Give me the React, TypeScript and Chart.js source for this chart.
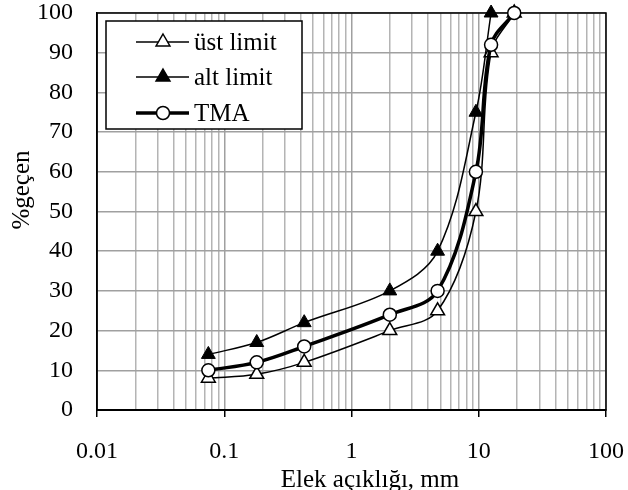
import React, { useEffect, useRef } from "react";
import { Chart, registerables } from "chart.js";

Chart.register(...registerables);

const sieveSizes = [0.075, 0.18, 0.425, 2, 4.75, 9.5, 12.5, 19];
const ustLimit = [8, 9, 12, 20, 25, 50, 90, 100];
const altLimit = [14, 17, 22, 30, 40, 75, 100, null];
const tma = [10, 12, 16, 24, 30, 60, 92, 100];
const decadeLabels = [0.01, 0.1, 1, 10, 100];
const minorSteps = [1, 2, 3, 4, 5, 6, 7, 8, 9];
const seriesNames = ["üst limit", "alt limit", "TMA"];
const xTitle = "Elek açıklığı, mm";
const yTitle = "%geçen";

const FONT = "'Liberation Serif', 'Times New Roman', serif";
const GRID = "#b4b4b4";
const GRID_MAJOR = "#a0a0a0";

const isDecade = (v: number) =>
  decadeLabels.some((d) => Math.abs(d - v) / d < 1e-6);

const overlayPlugin = {
  id: "overlay",
  beforeDatasetsDraw(chart: any) {
    const { ctx, chartArea } = chart;
    ctx.save();
    ctx.strokeStyle = "#000";
    ctx.lineWidth = 1.5;
    ctx.strokeRect(
      chartArea.left,
      chartArea.top,
      chartArea.right - chartArea.left,
      chartArea.bottom - chartArea.top
    );
    ctx.restore();
  },
  afterDraw(chart: any) {
    const { ctx } = chart;
    ctx.save();
    // Legend box
    const bx = 106, by = 21, bw = 196, bh = 108;
    ctx.fillStyle = "#fff";
    ctx.fillRect(bx, by, bw, bh);
    ctx.strokeStyle = "#000";
    ctx.lineWidth = 1.5;
    ctx.strokeRect(bx, by, bw, bh);
    const rows = [42, 77, 113];
    const styles = [
      { lw: 1.5, marker: "tri", fill: "#fff" },
      { lw: 1.5, marker: "tri", fill: "#000" },
      { lw: 3.5, marker: "circle", fill: "#fff" },
    ];
    rows.forEach((ry, i) => {
      const st = styles[i];
      ctx.strokeStyle = "#000";
      ctx.lineWidth = st.lw;
      ctx.beginPath();
      ctx.moveTo(136, ry);
      ctx.lineTo(189, ry);
      ctx.stroke();
      ctx.lineWidth = 1.5;
      ctx.fillStyle = st.fill;
      ctx.beginPath();
      if (st.marker === "tri") {
        const r = 8;
        const cx = 163;
        ctx.moveTo(cx, ry - r);
        ctx.lineTo(cx + r * 0.866, ry + r * 0.5);
        ctx.lineTo(cx - r * 0.866, ry + r * 0.5);
        ctx.closePath();
      } else {
        ctx.arc(163, ry, 6.5, 0, Math.PI * 2);
      }
      ctx.fill();
      ctx.stroke();
      ctx.fillStyle = "#000";
      ctx.font = `25px ${FONT}`;
      ctx.textAlign = "left";
      ctx.textBaseline = "middle";
      ctx.fillText(seriesNames[i], 194, ry + 1);
    });
    // Axis titles
    ctx.fillStyle = "#000";
    ctx.font = `25px ${FONT}`;
    ctx.textAlign = "center";
    ctx.textBaseline = "middle";
    ctx.fillText(xTitle, 370, 480);
    ctx.translate(22, 190);
    ctx.rotate(-Math.PI / 2);
    ctx.fillText(yTitle, 0, 0);
    ctx.restore();
  },
};

export default function App() {
  const ref = useRef<HTMLCanvasElement>(null);

  useEffect(() => {
    document.body.style.margin = "0";
    const canvas = ref.current;
    if (!canvas) return;
    const mk = (ys: (number | null)[]) =>
      sieveSizes.map((x, i) => ({ x, y: ys[i] }));
    const chart = new Chart(canvas, {
      type: "line",
      data: {
        datasets: [
          {
            label: seriesNames[2],
            data: mk(tma),
            borderColor: "#000",
            borderWidth: 3.5,
            pointStyle: "circle",
            pointRadius: 6.5,
            pointBorderWidth: 1.5,
            pointBackgroundColor: "#fff",
            pointBorderColor: "#000",
            tension: 0.35,
            clip: false,
          },
          {
            label: seriesNames[1],
            data: mk(altLimit),
            borderColor: "#000",
            borderWidth: 1.5,
            pointStyle: "triangle",
            pointRadius: 8,
            pointBorderWidth: 1,
            pointBackgroundColor: "#000",
            pointBorderColor: "#000",
            tension: 0.35,
            clip: false,
          },
          {
            label: seriesNames[0],
            data: mk(ustLimit),
            borderColor: "#000",
            borderWidth: 1.5,
            pointStyle: "triangle",
            pointRadius: 8,
            pointBorderWidth: 1.5,
            pointBackgroundColor: "#fff",
            pointBorderColor: "#000",
            tension: 0.35,
            clip: false,
          },
        ],
      } as any,
      options: {
        responsive: false,
        animation: false,
        devicePixelRatio: 1,
        layout: { padding: { top: 13, right: 22, left: 0, bottom: 0 } },
        plugins: {
          legend: { display: false },
          tooltip: { enabled: false },
        },
        scales: {
          x: {
            type: "logarithmic",
            min: 0.01,
            max: 100,
            afterBuildTicks(scale: any) {
              const ticks: { value: number }[] = [];
              for (let e = -2; e <= 1; e++) {
                minorSteps.forEach((s) => {
                  ticks.push({ value: parseFloat((s * Math.pow(10, e)).toPrecision(6)) });
                });
              }
              ticks.push({ value: 100 });
              scale.ticks = ticks;
            },
            afterFit(scale: any) {
              scale.height = 80;
              scale.paddingLeft = 0;
              scale.paddingRight = 0;
              scale.paddingTop = 0;
              scale.paddingBottom = 0;
            },
            grid: {
              color: (c: any) =>
                c.tick && isDecade(c.tick.value) ? GRID_MAJOR : GRID,
              lineWidth: 1.5,
              drawTicks: true,
              tickLength: 7,
              tickColor: (c: any) =>
                c.tick && isDecade(c.tick.value) ? "#000" : "rgba(0,0,0,0)",
              tickWidth: 1.5,
            },
            border: { color: "#000", width: 2 },
            ticks: {
              autoSkip: false,
              maxRotation: 0,
              padding: 20,
              color: "#000",
              font: { family: FONT, size: 24 },
              callback: (v: any) => (isDecade(Number(v)) ? String(Number(v)) : ""),
            },
          },
          y: {
            type: "linear",
            min: 0,
            max: 100,
            afterFit(scale: any) {
              scale.width = 97;
              scale.paddingLeft = 0;
              scale.paddingRight = 0;
              scale.paddingTop = 0;
              scale.paddingBottom = 0;
            },
            grid: { color: GRID_MAJOR, lineWidth: 1.5, drawTicks: false },
            border: { color: "#000", width: 1.5 },
            ticks: {
              stepSize: 10,
              padding: 24,
              color: "#000",
              font: { family: FONT, size: 24 },
            },
          },
        },
      } as any,
      plugins: [overlayPlugin],
    });
    return () => chart.destroy();
  }, []);

  return <canvas ref={ref} width={628} height={490} style={{ display: "block" }} />;
}
